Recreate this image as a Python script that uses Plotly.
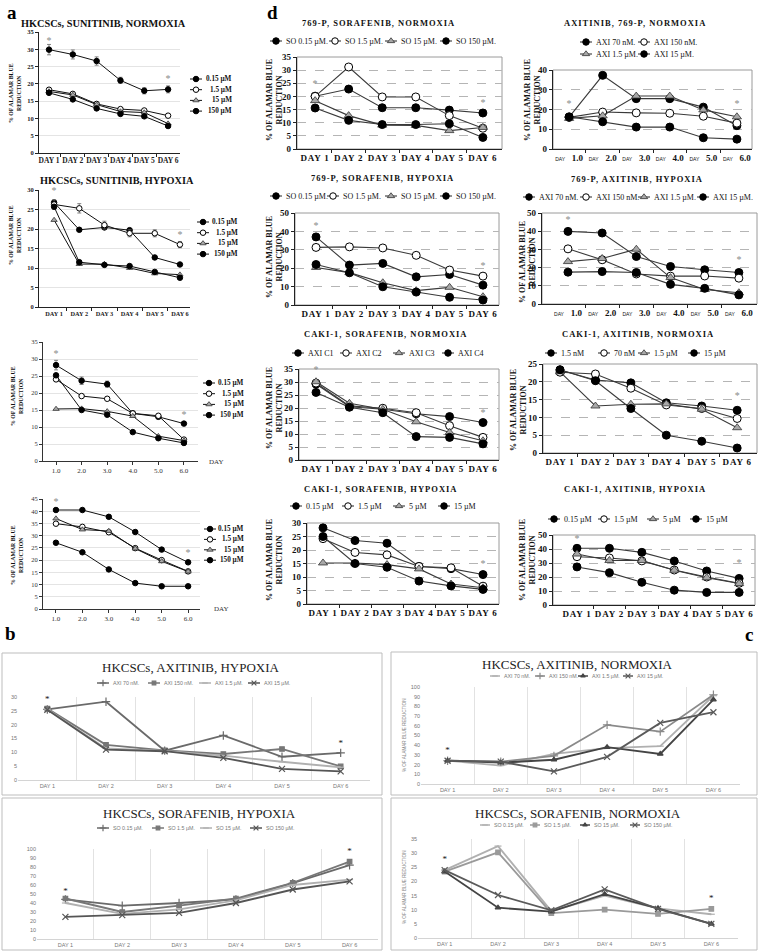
import plotly.graph_objects as go

W, H = 759, 952
SERIF = "Liberation Serif, Times New Roman, serif"
SANS = "Liberation Sans, Arial, sans-serif"

# ---------------- shared categories / labels ----------------
DAYS = ["DAY 1", "DAY 2", "DAY 3", "DAY 4", "DAY 5", "DAY 6"]
DAY_NUM = [1, 2, 3, 4, 5, 6]
DAY_DEC = ["1.0", "2.0", "3.0", "4.0", "5.0", "6.0"]

SU_LABELS = ["0.15 µM", "1.5 µM", "15 µM", "150 µM"]
SO_LABELS = ["SO 0.15 µM.", "SO 1.5 µM.", "SO 15 µM.", "SO 150 µM."]
AXI_LABELS = ["AXI 70 nM.", "AXI 150 nM.", "AXI 1.5 µM.", "AXI 15 µM."]
C_LABELS = ["AXI C1", "AXI C2", "AXI C3", "AXI C4"]
CK_AXI_LABELS = ["1.5 nM", "70 nM", "1.5 µM", "15 µM"]
CK_HYP_LABELS = ["0.15 µM", "1.5 µM", "5 µM", "15 µM"]
Y_TITLE = "% OF ALAMAR BLUE<br>REDUCTION"
XL_Y_TITLE = "% OF ALAMAR BLUE REDUCTION"

A1_TITLE = "HKCSCs, SUNITINIB, NORMOXIA"
A2_TITLE = "HKCSCs, SUNITINIB, HYPOXIA"
D1_TITLE = "769-P, SORAFENIB, NORMOXIA"
D2_TITLE = "AXITINIB, 769-P, NORMOXIA"
D3_TITLE = "769-P, SORAFENIB, HYPOXIA"
D4_TITLE = "769-P, AXITINIB, HYPOXIA"
D5_TITLE = "CAKI-1, SORAFENIB, NORMOXIA"
D6_TITLE = "CAKI-1, AXITINIB, NORMOXIA"
D7_TITLE = "CAKI-1, SORAFENIB, HYPOXIA"
D8_TITLE = "CAKI-1, AXITINIB, HYPOXIA"
B1_TITLE = "HKCSCs, AXITINIB, HYPOXIA"
B2_TITLE = "HKCSCs, SORAFENIB, HYPOXIA"
C1_TITLE = "HKCSCs, AXITINIB, NORMOXIA"
C2_TITLE = "HKCSCs, SORAFENIB, NORMOXIA"

# ---------------- values (% of alamar blue reduction) ----------------
a1_s1 = [29.9, 28.5, 26.6, 21.0, 18.0, 18.4]
a1_s2 = [18.3, 17.1, 14.2, 12.7, 12.3, 10.8]
a1_s3 = [17.8, 16.8, 14.0, 12.0, 11.7, 8.5]
a1_s4 = [17.4, 15.5, 12.9, 11.3, 10.6, 7.8]
a1_err = [1.5, 1.3, 1.2, 0.9, 0.9, 1.0]
a1_star = [32.3, 21.2]

a2_s1 = [26.8, 19.8, 20.4, 19.7, 12.7, 10.9]
a2_s2 = [26.3, 25.3, 21.0, 18.9, 18.9, 16.0]
a2_s3 = [22.3, 11.0, 11.0, 10.0, 8.6, 8.3]
a2_s4 = [25.7, 11.5, 10.8, 10.5, 9.0, 7.5]
a2_err = [1.2, 1.2, 1.0, 0.9, 0.9, 0.8]
a2_star = [29.6, 18.3]

a3_s1 = [28.2, 23.6, 22.6, 14.0, 13.0, 11.0]
a3_s2 = [24.0, 19.1, 18.3, 14.0, 13.3, 6.3]
a3_s3 = [15.3, 15.4, 14.6, 13.2, 7.3, 6.0]
a3_s4 = [25.2, 15.0, 13.6, 8.5, 6.7, 5.3]
a3_err = [1.4, 1.1, 0.9, 0.6, 0.6, 0.6]
a3_star = [31.4, 13.4]

a4_s1 = [40.5, 40.5, 37.7, 31.5, 24.3, 19.1]
a4_s2 = [34.9, 33.6, 31.4, 24.9, 20.0, 15.4]
a4_s3 = [37.0, 32.5, 31.9, 24.7, 19.5, 15.3]
a4_s4 = [27.1, 23.2, 16.2, 10.6, 9.3, 9.3]
a4_star = [43.7, 22.9]

d1_s1 = [20.1, 22.8, 15.7, 15.7, 14.8, 13.7]
d1_s2 = [20.0, 31.2, 19.8, 19.8, 12.7, 7.9]
d1_s3 = [18.4, 12.7, 9.1, 9.0, 7.0, 8.2]
d1_s4 = [15.6, 10.9, 9.3, 9.3, 9.6, 4.4]
d1_star = [24.5, 17.3]

d2_s1 = [16.1, 37.3, 25.5, 25.5, 21.2, 11.8]
d2_s2 = [16.0, 18.7, 18.3, 18.1, 16.6, 13.1]
d2_s3 = [15.5, 16.8, 26.8, 26.8, 19.8, 16.3]
d2_s4 = [16.3, 13.8, 11.1, 11.1, 5.7, 5.0]
d2_star = [22.4, 22.4]

d3_s1 = [37.0, 21.7, 22.6, 15.3, 16.6, 10.8]
d3_s2 = [31.3, 31.6, 31.0, 27.0, 19.0, 15.7]
d3_s3 = [20.4, 17.6, 12.1, 7.8, 9.6, 4.5]
d3_s4 = [22.0, 17.5, 9.9, 7.0, 4.2, 2.7]
d3_star = [42.4, 20.8]

d4_s1 = [39.9, 39.0, 26.1, 20.6, 18.8, 17.3]
d4_s2 = [30.3, 24.3, 16.5, 15.3, 15.4, 14.2]
d4_s3 = [23.3, 25.0, 30.1, 14.5, 8.0, 6.2]
d4_s4 = [17.5, 17.8, 17.3, 10.8, 8.6, 5.0]
d4_star = [45.8, 23.7]

d5_s1 = [29.2, 20.5, 19.5, 17.8, 16.7, 14.4]
d5_s2 = [29.6, 20.8, 19.9, 18.2, 13.2, 8.7]
d5_s3 = [30.1, 21.8, 19.5, 14.7, 10.6, 7.4]
d5_s4 = [26.0, 20.3, 18.2, 9.0, 8.7, 6.2]
d5_star = [34.6, 17.7]

d6_s1 = [23.3, 20.5, 19.7, 14.1, 13.2, 12.0]
d6_s2 = [22.7, 22.2, 18.2, 13.5, 12.5, 9.7]
d6_s3 = [22.8, 13.2, 13.7, 13.8, 12.3, 7.1]
d6_s4 = [23.4, 20.3, 12.5, 5.0, 3.3, 1.4]
d6_star = [25.7, 16.0]

d7_s1 = [28.2, 23.5, 22.5, 13.9, 13.1, 10.9]
d7_s2 = [24.2, 19.1, 18.2, 13.9, 13.4, 6.6]
d7_s3 = [15.2, 15.2, 14.6, 13.0, 7.4, 6.0]
d7_s4 = [25.0, 15.0, 13.6, 8.5, 6.7, 5.4]
d7_star = [30.8, 14.5]

d8_s1 = [40.5, 40.5, 37.6, 31.4, 24.3, 19.0]
d8_s2 = [34.5, 33.6, 31.5, 25.0, 20.0, 15.5]
d8_s3 = [36.4, 31.8, 31.8, 24.8, 19.5, 15.3]
d8_s4 = [27.2, 23.1, 16.2, 10.6, 9.0, 9.0]
d8_star = [47.0, 29.8]

b1_s1 = [25.5, 28.3, 10.6, 16.1, 8.4, 9.8]
b1_s2 = [25.8, 12.7, 10.7, 9.4, 11.2, 4.9]
b1_s3 = [25.6, 11.4, 10.5, 8.8, 6.6, 4.6]
b1_s4 = [25.4, 11.0, 10.4, 8.0, 4.0, 3.1]
b1_star = [29.0, 13.2]

b2_s1 = [44.0, 37.0, 40.0, 44.0, 62.0, 82.0]
b2_s2 = [45.0, 30.0, 37.0, 45.0, 62.5, 86.0]
b2_s3 = [40.0, 28.0, 33.0, 43.0, 60.0, 66.0]
b2_s4 = [24.5, 26.5, 29.0, 40.0, 55.0, 64.0]
b2_star = [53.0, 97.0]

c1_s1 = [24.0, 19.0, 31.0, 37.0, 39.0, 91.0]
c1_s2 = [24.0, 23.0, 29.0, 61.0, 54.0, 92.0]
c1_s3 = [24.0, 22.0, 25.0, 38.0, 31.0, 87.0]
c1_s4 = [24.0, 23.0, 13.0, 28.0, 63.0, 74.0]
c1_star = [34.0, 101.0]

c2_s1 = [24.0, 32.5, 9.5, 15.0, 10.5, 8.4]
c2_s2 = [23.5, 30.3, 8.8, 10.0, 8.5, 10.3]
c2_s3 = [23.5, 10.7, 9.3, 15.5, 10.5, 5.0]
c2_s4 = [24.0, 15.2, 9.8, 17.2, 10.3, 5.0]
c2_star = [27.5, 14.0]

# ---------------- panel layout (positions in page pixels) ----------------
AD = ['fill', 'open', 'tri', 'fill']
XL_B = [('#6a6a6a', 'cross-thin-open', 6), ('#777777', 'square', 4.5),
        ('#b0b0b0', 'line-ew-open', 5), ('#555555', 'x-thin-open', 6)]
XL_C1 = [('#b0b0b0', 'line-ew-open', 5), ('#8a8a8a', 'cross-thin-open', 6),
         ('#444444', 'triangle-up', 5), ('#5a5a5a', 'x-thin-open', 6)]
XL_C2 = [('#b0b0b0', 'line-ew-open', 5), ('#9a9a9a', 'square', 4.5),
         ('#444444', 'triangle-up', 5), ('#5a5a5a', 'x-thin-open', 6)]

PANELS = [
    dict(kind='a', series=[a1_s1, a1_s2, a1_s3, a1_s4], err={0: a1_err}, star=a1_star,
         labels=SU_LABELS, title=A1_TITLE, box=(39, 32, 180, 153), xr=(0.58, 6.5), yr=(0, 35),
         dtick=5, styles=AD, xfs=7.5, leg=dict(mode='v', x=190, y=79, dy=10.7, sw=12, tx=234),
         ttl=(103, 23), ytl=(15, 93)),
    dict(kind='a', series=[a2_s1, a2_s2, a2_s3, a2_s4], err={1: a2_err}, star=a2_star,
         labels=SU_LABELS, title=A2_TITLE, box=(39, 190, 190, 307), xr=(0.4, 6.4), yr=(0, 30),
         dtick=5, styles=AD, xfs=6.3, leg=dict(mode='v', x=197, y=222, dy=10.7, sw=12, tx=240),
         ttl=(117, 180), ytl=(15, 235)),
    dict(kind='anum', series=[a3_s1, a3_s2, a3_s3, a3_s4], err={0: a3_err}, star=a3_star,
         labels=SU_LABELS, title=None, box=(43, 342, 198, 461), xr=(0.49, 6.55), yr=(0, 35),
         dtick=5, styles=AD, leg=dict(mode='v', x=203, y=383, dy=10.7, sw=12, tx=246),
         ttl=None, ytl=(17, 396), daylab=(207, 462)),
    dict(kind='anum', series=[a4_s1, a4_s2, a4_s3, a4_s4], err={}, star=a4_star,
         labels=SU_LABELS, title=None, box=(43, 499, 200, 609), xr=(0.51, 6.45), yr=(0, 45),
         dtick=5, styles=AD, leg=dict(mode='v', x=204, y=529, dy=10.4, sw=12, tx=246),
         ttl=None, ytl=(17, 555), daylab=(212, 609)),
    dict(kind='d', series=[d1_s1, d1_s2, d1_s3, d1_s4], err={}, star=d1_star,
         labels=SO_LABELS, title=D1_TITLE, box=(297, 57, 502, 149), xr=(0.46, 6.57), yr=(0, 35),
         dtick=5, styles=AD, leg=dict(mode='h', xs=[270, 329, 385, 440], ys=[41] * 4, sw=12),
         ttl=(378, 23), ytl=(274, 100)),
    dict(kind='dnum', series=[d2_s1, d2_s2, d2_s3, d2_s4], err={}, star=d2_star,
         labels=AXI_LABELS, title=D2_TITLE, box=(553, 70, 752, 149), xr=(0.52, 6.45), yr=(0, 40),
         dtick=10, styles=AD, leg=dict(mode='h', xs=[580, 638, 580, 638], ys=[42, 42, 54, 54], sw=12),
         ttl=(635, 23), ytl=(532, 100)),
    dict(kind='d', series=[d3_s1, d3_s2, d3_s3, d3_s4], err={}, star=d3_star,
         labels=SO_LABELS, title=D3_TITLE, box=(295, 213, 499, 305), xr=(0.37, 6.48), yr=(0, 50),
         dtick=10, styles=AD, leg=dict(mode='h', xs=[270, 327, 385, 440], ys=[196] * 4, sw=12),
         ttl=(382, 178), ytl=(274, 257)),
    dict(kind='dnum', series=[d4_s1, d4_s2, d4_s3, d4_s4], err={}, star=d4_star,
         labels=AXI_LABELS, title=D4_TITLE, box=(542, 213, 757, 304), xr=(0.24, 6.53), yr=(0, 50),
         dtick=10, styles=AD, leg=dict(mode='h', xs=[523, 580, 638, 697], ys=[197] * 4, sw=12),
         ttl=(637, 179), ytl=(527, 262)),
    dict(kind='d', series=[d5_s1, d5_s2, d5_s3, d5_s4], err={}, star=d5_star,
         labels=C_LABELS, title=D5_TITLE, box=(299, 369, 499, 460), xr=(0.49, 6.48), yr=(0, 35),
         dtick=5, styles=AD, leg=dict(mode='h', xs=[292, 340, 393, 442], ys=[353] * 4, sw=12),
         ttl=(385, 334), ytl=(274, 408)),
    dict(kind='d', series=[d6_s1, d6_s2, d6_s3, d6_s4], err={}, star=d6_star,
         labels=CK_AXI_LABELS, title=D6_TITLE, box=(543, 364, 757, 453), xr=(0.52, 6.56), yr=(0, 25),
         dtick=5, styles=AD, leg=dict(mode='h', xs=[545, 598, 638, 688], ys=[353] * 4, sw=12),
         ttl=(638, 334), ytl=(518, 410)),
    dict(kind='d', series=[d7_s1, d7_s2, d7_s3, d7_s4], err={}, star=d7_star,
         labels=CK_HYP_LABELS, title=D7_TITLE, box=(307, 523, 499, 604), xr=(0.5, 6.5), yr=(0, 30),
         dtick=5, styles=AD, leg=dict(mode='h', xs=[290, 342, 393, 438], ys=[506] * 4, sw=12),
         ttl=(381, 489), ytl=(274, 560)),
    dict(kind='d', series=[d8_s1, d8_s2, d8_s3, d8_s4], err={}, star=d8_star,
         labels=CK_HYP_LABELS, title=D8_TITLE, box=(553, 535, 755, 605), xr=(0.26, 6.49), yr=(0, 50),
         dtick=10, styles=AD, leg=dict(mode='h', xs=[548, 598, 647, 690], ys=[519] * 4, sw=12),
         ttl=(635, 489), ytl=(527, 560)),
    dict(kind='xl', series=[b1_s1, b1_s2, b1_s3, b1_s4], err={}, star=b1_star,
         labels=AXI_LABELS, title=B1_TITLE, box=(18, 697, 370, 780), xr=(0.5, 6.5), yr=(0, 30),
         dtick=5, styles=XL_B, leg=dict(mode='h', xs=[97, 148, 199, 248], ys=[683] * 4, sw=12),
         ttl=(191, 667), ytl=None),
    dict(kind='xl', series=[b2_s1, b2_s2, b2_s3, b2_s4], err={}, star=b2_star,
         labels=SO_LABELS, title=B2_TITLE, box=(37, 849, 378, 939), xr=(0.5, 6.5), yr=(0, 100),
         dtick=10, styles=XL_B, leg=dict(mode='h', xs=[97, 152, 200, 250], ys=[828] * 4, sw=12),
         ttl=(199, 813), ytl=None),
    dict(kind='xl', series=[c1_s1, c1_s2, c1_s3, c1_s4], err={}, star=c1_star,
         labels=AXI_LABELS, title=C1_TITLE, box=(421, 687, 740, 784), xr=(0.5, 6.5), yr=(0, 100),
         dtick=10, styles=XL_C1, leg=dict(mode='h', xs=[490, 535, 578, 623], ys=[676] * 4, sw=10),
         ttl=(577, 664), ytl=(404, 735)),
    dict(kind='xl', series=[c2_s1, c2_s2, c2_s3, c2_s4], err={}, star=c2_star,
         labels=SO_LABELS, title=C2_TITLE, box=(418, 839, 738, 938), xr=(0.5, 6.5), yr=(0, 35),
         dtick=5, styles=XL_C2, leg=dict(mode='h', xs=[480, 530, 580, 630], ys=[825] * 4, sw=10),
         ttl=(578, 813), ytl=(404, 887)),
]

OUTER_BOXES = [(2, 653, 382, 795), (2, 798, 382, 950), (391, 652, 757, 795), (391, 798, 757, 950)]
LETTERS = [("a", 12, 12), ("d", 272, 12), ("b", 10, 633), ("c", 749, 634)]

BOUNDS = [d + 0.5 for d in DAY_NUM[:-1]]


def xdom(b):
    return [b[0] / W, b[2] / W]


def ydom(b):
    return [1 - b[3] / H, 1 - b[1] / H]


def style_for(kind, st, legend=False):
    if kind == 'xl':
        col, sym, sz = st
        if legend:
            sz = sz * 0.8
        mk = dict(symbol=sym, size=sz, color=col, line=dict(color=col, width=1.2))
        ln = dict(color=col, width=1.8 if not legend else 1.5)
        return mk, ln
    big = kind in ('d', 'dnum')
    s = (8 if big else 5.5) if not legend else (6.5 if big else 5.5)
    if st == 'fill':
        mk = dict(symbol='circle', size=s, color='black', line=dict(color='black', width=1))
    elif st == 'open':
        mk = dict(symbol='circle', size=s, color='white', line=dict(color='black', width=1))
    else:
        mk = dict(symbol='triangle-up', size=s, color='#a8a8a8', line=dict(color='#333', width=0.8))
    ln = dict(color='#3a3a3a' if big else '#111', width=1.1 if big else 1)
    return mk, ln


fig = go.Figure()
layout = dict(width=W, height=H, margin=dict(l=0, r=0, t=0, b=0), autosize=False,
              paper_bgcolor='white', plot_bgcolor='rgba(0,0,0,0)', showlegend=False,
              hovermode=False)
annotations = []
shapes = []

OV = len(PANELS) + 1  # overlay subplot used for titles / legend keys (page pixel units)


def ann(x, y, text, font, **kw):
    d = dict(x=x, y=y, xref=f'x{OV}', yref=f'y{OV}', text=text, showarrow=False, font=font)
    d.update(kw)
    annotations.append(d)


for i, p in enumerate(PANELS, start=1):
    xs = 'x' if i == 1 else f'x{i}'
    ys = 'y' if i == 1 else f'y{i}'
    xk = 'xaxis' if i == 1 else f'xaxis{i}'
    yk = 'yaxis' if i == 1 else f'yaxis{i}'
    b = p['box']
    kind = p['kind']
    xa = dict(domain=xdom(b), range=list(p['xr']), anchor=ys, tickmode='array', tickvals=DAY_NUM,
              zeroline=False, showgrid=False, fixedrange=True, automargin=False)
    ya = dict(domain=ydom(b), range=list(p['yr']), anchor=xs, dtick=p['dtick'], tick0=0,
              zeroline=False, fixedrange=True, automargin=False)
    if kind == 'a':
        xa.update(ticktext=DAYS, ticks='', showline=True, linecolor='#222', linewidth=1,
                  tickfont=dict(family=SERIF, size=p.get('xfs', 7.5), color='#222', weight='bold'),
                  minor=dict(tickmode='array', tickvals=BOUNDS, ticks='outside', ticklen=3, tickcolor='#222'))
        ya.update(tickfont=dict(family=SERIF, size=6.5, color='#222', weight='bold'), ticks='outside',
                  ticklen=3, tickcolor='#222', showline=True, linecolor='#222', linewidth=1,
                  showgrid=True, gridcolor='#e4e4e4', gridwidth=1)
    elif kind == 'anum':
        xa.update(ticktext=DAY_DEC, ticks='outside', ticklen=3, tickcolor='#333', showline=True,
                  linecolor='#333', linewidth=1, tickfont=dict(family=SERIF, size=7, color='#333'))
        ya.update(tickfont=dict(family=SERIF, size=6.5, color='#333'), ticks='outside', ticklen=3,
                  tickcolor='#333', showline=True, linecolor='#333', linewidth=1,
                  showgrid=True, gridcolor='#e4e4e4', gridwidth=1)
    elif kind in ('d', 'dnum'):
        if kind == 'd':
            tt = [f'<span style="letter-spacing:0.8px">{d}</span>' for d in DAYS]
        else:
            tt = [f'<span style="font-size:5px;font-weight:normal;font-family:Liberation Sans">DAY</span>   {d}'
                  for d in DAY_DEC]
        xa.update(ticktext=tt, ticks='', showline=True, linecolor='#222', linewidth=1.3,
                  tickfont=dict(family=SERIF, size=9, color='#111', weight='bold'),
                  minor=dict(tickmode='array', tickvals=BOUNDS, ticks='outside', ticklen=3, tickcolor='#222'))
        ya.update(tickfont=dict(family=SERIF, size=9, color='#111', weight='bold'), ticks='outside',
                  ticklen=3, tickcolor='#222', showline=True, linecolor='#222', linewidth=1.3,
                  showgrid=True, gridcolor='#b5b5b5', gridwidth=0.8, griddash='dash')
        shapes.append(dict(type='rect', xref=f'{xs} domain', yref=f'{ys} domain', x0=0, x1=1, y0=0, y1=1,
                           line=dict(color='#9a9a9a', width=1), layer='below'))
    else:  # excel style
        xa.update(ticktext=DAYS, ticks='', showline=True, linecolor='#d4d4d4', linewidth=1,
                  tickfont=dict(family=SANS, size=5.5, color='#777'),
                  minor=dict(tickmode='array', tickvals=BOUNDS, showgrid=True, gridcolor='#e2e2e2',
                             gridwidth=1, ticks=''))
        ya.update(tickfont=dict(family=SANS, size=5.5, color='#777'), ticks='', showline=False,
                  showgrid=False)
    layout[xk] = xa
    layout[yk] = ya

    for j, vals in enumerate(p['series']):
        mk, ln = style_for(kind, p['styles'][j])
        tr = dict(x=DAY_NUM, y=vals, mode='lines+markers', line=ln, marker=mk, xaxis=xs, yaxis=ys,
                  showlegend=False, hoverinfo='skip', cliponaxis=False)
        if j in p['err']:
            tr['error_y'] = dict(type='data', array=p['err'][j], color='#666', thickness=0.8, width=2)
        fig.add_trace(go.Scatter(**tr))

    star_col = '#111' if kind == 'xl' else '#8a8a8a'
    fig.add_trace(go.Scatter(x=[DAY_NUM[0], DAY_NUM[-1]], y=p['star'], mode='text', text=['*', '*'],
                             textfont=dict(family=SERIF, size=10 if kind != 'xl' else 9, color=star_col),
                             textposition='middle center', xaxis=xs, yaxis=ys, cliponaxis=False,
                             showlegend=False, hoverinfo='skip'))

    # legend keys (drawn on overlay axis in page pixels)
    lg = p['leg']
    for j, lab in enumerate(p['labels']):
        if lg['mode'] == 'v':
            lx, ly = lg['x'], lg['y'] + j * lg['dy']
        else:
            lx, ly = lg['xs'][j], lg['ys'][j]
        sw = lg['sw']
        mk, ln = style_for(kind, p['styles'][j], legend=True)
        fig.add_trace(go.Scatter(x=[lx, lx + sw], y=[ly, ly], mode='lines', line=ln,
                                 xaxis=f'x{OV}', yaxis=f'y{OV}', showlegend=False, hoverinfo='skip'))
        fig.add_trace(go.Scatter(x=[lx + sw / 2], y=[ly], mode='markers', marker=mk,
                                 xaxis=f'x{OV}', yaxis=f'y{OV}', showlegend=False, hoverinfo='skip'))
        if kind in ('a', 'anum'):
            ann(lg['tx'], ly, lab, dict(family=SERIF, size=7.2, color='#111', weight='bold'),
                xanchor='right', yanchor='middle')
        elif kind in ('d', 'dnum'):
            ann(lx + sw + 1.5, ly, lab, dict(family=SERIF, size=8, color='#111'),
                xanchor='left', yanchor='middle')
        else:
            ann(lx + sw + 1.5, ly, lab, dict(family=SANS, size=5.3, color='#777'),
                xanchor='left', yanchor='middle')

    # titles
    if p['ttl'] is not None:
        tx, ty = p['ttl']
        if kind in ('a', 'anum'):
            ann(tx, ty, p['title'], dict(family=SERIF, size=10.3, color='#111', weight='bold'))
        elif kind in ('d', 'dnum'):
            ann(tx, ty, f'<span style="letter-spacing:1px">{p["title"]}</span>',
                dict(family=SERIF, size=8.5, color='#111', weight='bold'))
        else:
            ann(tx, ty, p['title'], dict(family=SERIF, size=13, color='#222'))
    if p['ytl'] is not None:
        yx, yy = p['ytl']
        if kind in ('a', 'anum'):
            ann(yx, yy, Y_TITLE, dict(family=SERIF, size=5.8, color='#111', weight='bold'), textangle=-90)
        elif kind in ('d', 'dnum'):
            ann(yx, yy, Y_TITLE, dict(family=SERIF, size=8, color='#111', weight='bold'), textangle=-90)
        else:
            ann(yx, yy, XL_Y_TITLE, dict(family=SANS, size=4.6, color='#888'), textangle=-90)
    if 'daylab' in p:
        dx, dy = p['daylab']
        ann(dx, dy, 'DAY', dict(family=SERIF, size=7, color='#333'), xanchor='left')

for (x0, y0, x1, y1) in OUTER_BOXES:
    shapes.append(dict(type='rect', xref=f'x{OV}', yref=f'y{OV}', x0=x0, y0=y0, x1=x1, y1=y1,
                       line=dict(color='#bdbdbd', width=1), layer='below'))

for (t, x, y) in LETTERS:
    ann(x, y, t, dict(family=SERIF, size=19, color='#000', weight='bold'))

layout[f'xaxis{OV}'] = dict(domain=[0, 1], range=[0, W], visible=False, fixedrange=True, anchor=f'y{OV}')
layout[f'yaxis{OV}'] = dict(domain=[0, 1], range=[H, 0], visible=False, fixedrange=True, anchor=f'x{OV}')
layout['annotations'] = annotations
layout['shapes'] = shapes
fig.update_layout(**layout)
fig.write_html("out.html", config={'displayModeBar': False},
               post_script="document.body.style.margin='0px';document.body.style.overflow='hidden';")
